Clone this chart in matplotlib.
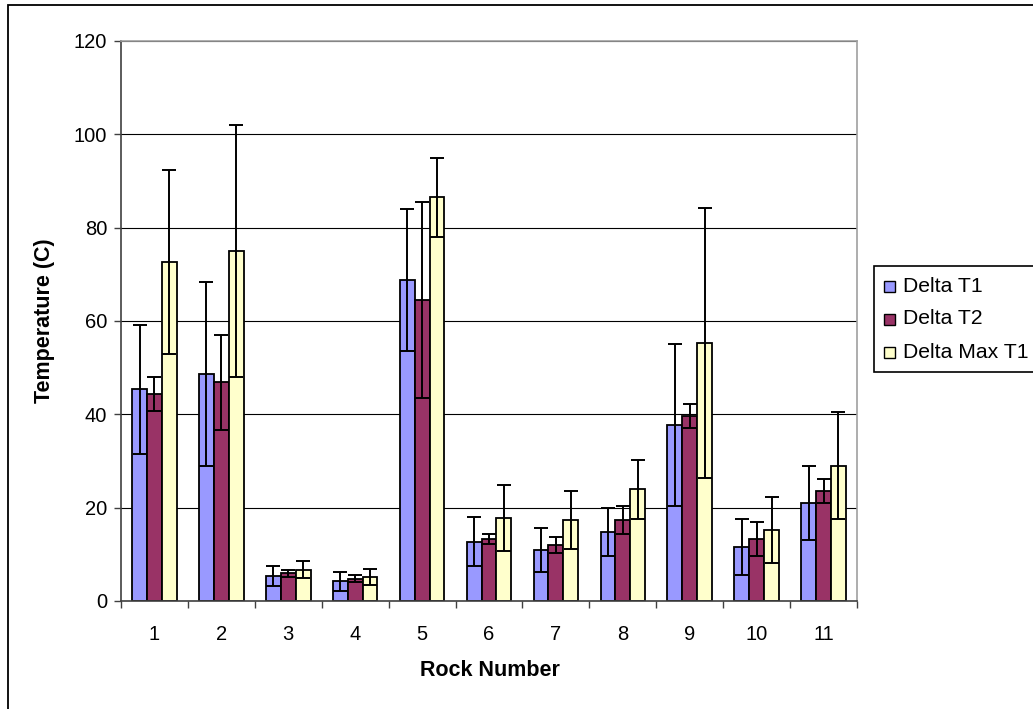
import matplotlib
matplotlib.use("Agg")
import matplotlib.pyplot as plt
from matplotlib.patches import Rectangle
import numpy as np

plt.rcParams['font.family'] = ['Liberation Sans', 'DejaVu Sans']

rocks = [1, 2, 3, 4, 5, 6, 7, 8, 9, 10, 11]
series_names = ["Delta T1", "Delta T2", "Delta Max T1"]

delta_t1 = [45.4, 48.7, 5.4, 4.2, 68.7, 12.7, 10.9, 14.8, 37.7, 11.6, 21.0]
delta_t1_err = [13.8, 19.7, 2.1, 2.0, 15.2, 5.3, 4.7, 5.2, 17.4, 6.0, 8.0]

delta_t2 = [44.3, 46.9, 5.9, 4.8, 64.6, 13.3, 12.0, 17.4, 39.7, 13.3, 23.6]
delta_t2_err = [3.6, 10.2, 0.8, 0.8, 21.0, 1.1, 1.7, 3.0, 2.6, 3.6, 2.6]

delta_max_t1 = [72.7, 74.9, 6.7, 5.1, 86.5, 17.8, 17.4, 23.9, 55.3, 15.2, 29.0]
delta_max_t1_err = [19.7, 27.0, 1.8, 1.7, 8.4, 7.0, 6.2, 6.3, 29.0, 7.0, 11.5]

colors = ["#9999FF", "#993366", "#FFFFCC"]
y_ticks = [0, 20, 40, 60, 80, 100, 120]

W, H = 1033, 709
fig = plt.figure(figsize=(W / 100, H / 100), dpi=100)

# outer chart frame (left and top edges visible)
fig.patches.append(Rectangle((8 / W, -0.05), 1.2, 1 - 5 / H + 0.05,
                             transform=fig.transFigure, fill=False,
                             edgecolor="black", linewidth=1.3))

ax = fig.add_axes([121 / W, (H - 601) / H, 736 / W, 560 / H])

x = np.array(rocks, dtype=float)
bw = 1 / 4.5
values = [delta_t1, delta_t2, delta_max_t1]
errors = [delta_t1_err, delta_t2_err, delta_max_t1_err]
for i, (v, e, c) in enumerate(zip(values, errors, colors)):
    pos = x + (i - 1) * bw
    ax.bar(pos, v, width=bw, color=c, edgecolor="black", linewidth=1.3,
           zorder=2, label=series_names[i])
    ax.errorbar(pos, v, yerr=e, fmt="none", ecolor="black", elinewidth=1.4,
                capsize=5, capthick=1.4, zorder=3)

ax.set_xlim(0.5, 11.5)
ax.set_ylim(0, 120)
ax.set_yticks(y_ticks)
ax.yaxis.grid(True, color="black", linewidth=0.8, zorder=0)
ax.set_axisbelow(True)

ax.set_xticks(x)
ax.set_xticklabels([str(r) for r in rocks])
ax.set_xticks(np.arange(0.5, 12, 1), minor=True)
ax.tick_params(axis="x", which="major", length=0, pad=17, labelsize=14.5)
ax.tick_params(axis="x", which="minor", length=5, width=1, direction="out",
               color="#404040")
ax.tick_params(axis="y", which="major", length=5, width=1, direction="out",
               pad=5, labelsize=14.5, color="#404040")

for s in ["left", "bottom"]:
    ax.spines[s].set_color("#404040")
    ax.spines[s].set_linewidth(1.2)
for s in ["top", "right"]:
    ax.spines[s].set_color("#A0A0A0")
    ax.spines[s].set_linewidth(1.2)

fig.text(490 / W, 1 - 670 / H, "Rock Number", ha="center", va="center",
         fontsize=15.5, fontweight="bold")
fig.text(45 / W, 1 - 321 / H, "Temperature (C)", ha="center", va="center",
         rotation=90, fontsize=15.5, fontweight="bold")

# legend box running off the right edge
fig.patches.append(Rectangle((874 / W, 1 - 372 / H), 0.3, (372 - 266) / H,
                             transform=fig.transFigure, fill=True,
                             facecolor="white", edgecolor="black",
                             linewidth=1.2))
entry_y = [286, 319, 352]
for name, c, yy in zip(series_names, colors, entry_y):
    fig.patches.append(Rectangle((884 / W, 1 - (yy + 5.5) / H), 11 / W, 11 / H,
                                 transform=fig.transFigure, facecolor=c,
                                 edgecolor="black", linewidth=1.0))
    fig.text(903 / W, 1 - yy / H, name, ha="left", va="center",
             fontsize=15.2)

fig.savefig("out.png", dpi=100)
